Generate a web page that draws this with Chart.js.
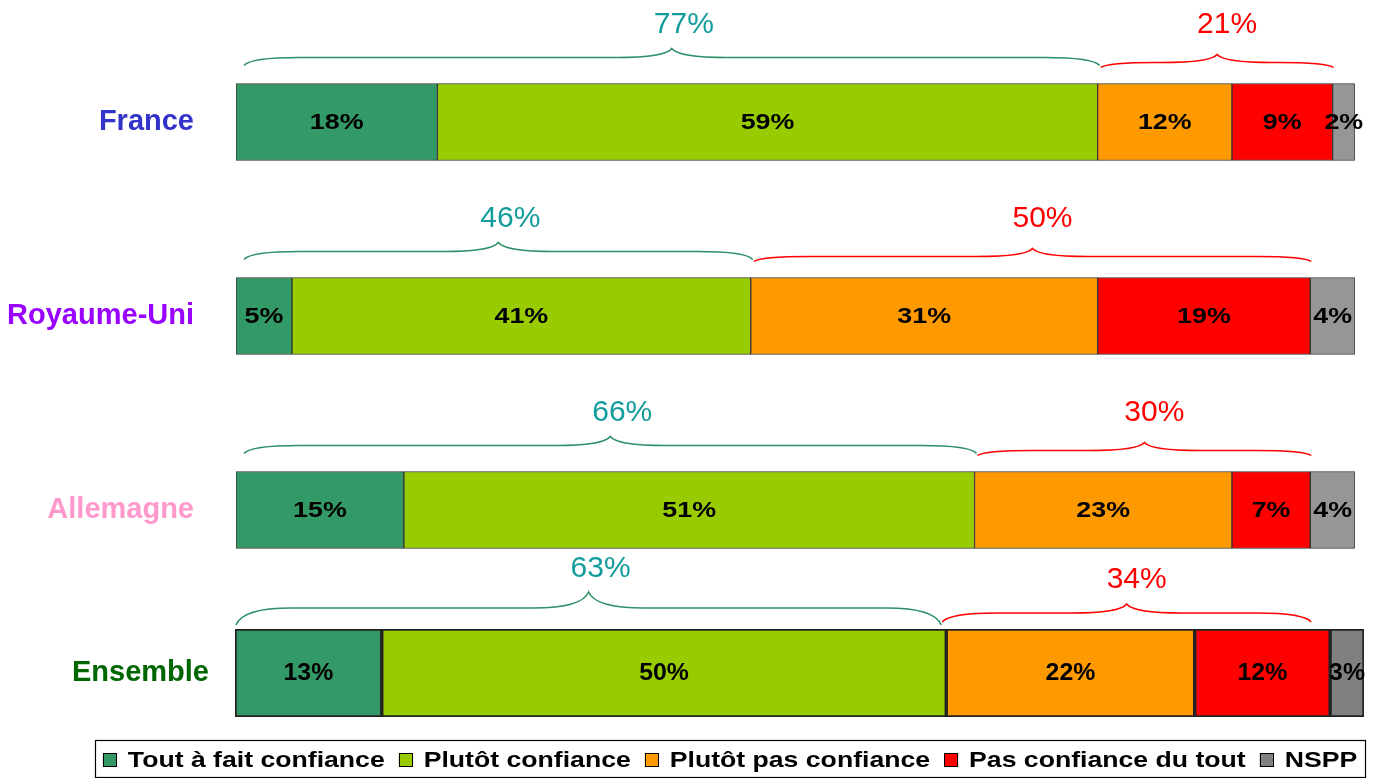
<!DOCTYPE html>
<html><head><meta charset="utf-8">
<script src="https://cdn.jsdelivr.net/npm/chart.js@4.4.0/dist/chart.umd.min.js"></script>
<style>
html,body{margin:0;padding:0;background:#fff;}
#wrap{position:relative;width:1373px;height:778px;overflow:hidden;}
canvas{position:absolute;left:0;top:0;}
</style></head><body>
<div id="wrap"><canvas id="c1" width="1373" height="778"></canvas><canvas id="c2" width="1373" height="778"></canvas></div>
<script>
// ---- data ----
const categories = ['France', 'Royaume-Uni', 'Allemagne', 'Ensemble'];
const seriesNames = ['Tout à fait confiance', 'Plutôt confiance', 'Plutôt pas confiance', 'Pas confiance du tout', 'NSPP'];
const toutAFaitConfiance = [18, 5, 15, 13];
const plutotConfiance = [59, 41, 51, 50];
const plutotPasConfiance = [12, 31, 23, 22];
const pasConfianceDuTout = [9, 19, 7, 12];
const nspp = [2, 4, 4, 3];
const totalConfiance = [77, 46, 66, 63];
const totalPasConfiance = [21, 50, 30, 34];

// ---- styles ----
const FONT = '"Liberation Sans", Arial, Helvetica, sans-serif';
Chart.defaults.font.family = FONT;
const seriesColors = ['#339966', '#99cc00', '#ff9900', '#ff0000', '#969696'];
const seriesColorsEnsemble = ['#339966', '#99cc00', '#ff9900', '#ff0000', '#808080'];
const countryColors = ['#3333cc', '#9900ff', '#ff99cc', '#006600'];
const seriesValues = [toutAFaitConfiance, plutotConfiance, plutotPasConfiance, pasConfianceDuTout, nspp];

function makeDatasets(from, to, colors, bw, bc) {
  return seriesNames.map((name, s) => ({
    label: name,
    data: seriesValues[s].slice(from, to),
    backgroundColor: colors[s],
    borderColor: bc,
    borderWidth: bw,
    borderSkipped: false
  }));
}

function drawBrace(ctx, x0, x1, yEnd, yMid, yTip, color) {
  const w = x1 - x0, xc = (x0 + x1) / 2;
  const r = Math.min(55, w / 4);
  ctx.save();
  ctx.strokeStyle = color; ctx.lineWidth = 1.5;
  ctx.beginPath();
  ctx.moveTo(x0, yEnd);
  ctx.quadraticCurveTo(x0 + r * 0.12, yMid, x0 + r, yMid);
  ctx.lineTo(xc - r, yMid);
  ctx.quadraticCurveTo(xc - r * 0.12, yMid, xc, yTip);
  ctx.quadraticCurveTo(xc + r * 0.12, yMid, xc + r, yMid);
  ctx.lineTo(x1 - r, yMid);
  ctx.quadraticCurveTo(x1 - r * 0.12, yMid, x1, yEnd);
  ctx.stroke();
  ctx.restore();
}

function stretchedText(ctx, txt, x, y, hs) {
  ctx.save();
  ctx.translate(x, y);
  ctx.scale(hs, 1);
  ctx.fillText(txt, 0, 0);
  ctx.restore();
}

const annotPlugin = {
  id: 'annot',
  afterDatasetsDraw(chart, args, opts) {
    const ctx = chart.ctx;
    // segment labels
    ctx.save();
    ctx.fillStyle = '#000';
    ctx.font = 'bold ' + opts.labelSize + 'px ' + FONT;
    ctx.textAlign = 'center'; ctx.textBaseline = 'middle';
    chart.data.datasets.forEach((ds, di) => {
      const meta = chart.getDatasetMeta(di);
      meta.data.forEach((el, i) => {
        const p = el.getProps(['x', 'base', 'y'], true);
        stretchedText(ctx, ds.data[i] + '%', (p.x + p.base) / 2, p.y + 1, opts.labelStretch);
      });
    });
    ctx.restore();
    // braces
    const m0 = chart.getDatasetMeta(0), m1 = chart.getDatasetMeta(1), m3 = chart.getDatasetMeta(3);
    m0.data.forEach((el, i) => {
      const idx = opts.offset + i;
      const p0 = el.getProps(['base', 'y', 'height'], true);
      const x1 = m1.data[i].getProps(['x'], true).x;
      const x3 = m3.data[i].getProps(['x'], true).x;
      const top = p0.y - p0.height / 2;
      const g = opts.green, r = opts.red;
      const gx0 = p0.base + g.in0, gx1 = x1 + g.in1;
      const rx0 = x1 + r.in0, rx1 = x3 + r.in1;
      drawBrace(ctx, gx0, gx1, top + g.end, top + g.mid, top + g.tip, '#2e9166');
      drawBrace(ctx, rx0, rx1, top + r.end, top + r.mid, top + r.tip, '#ff0000');
      ctx.save();
      ctx.font = '30px ' + FONT;
      ctx.textAlign = 'center'; ctx.textBaseline = 'middle';
      ctx.fillStyle = '#139c9c';
      ctx.fillText(totalConfiance[idx] + '%', (gx0 + gx1) / 2 + 12, top + g.label);
      ctx.fillStyle = '#ff0000';
      ctx.fillText(totalPasConfiance[idx] + '%', (rx0 + rx1) / 2 + 10, top + r.label);
      ctx.restore();
    });
  },
  afterDraw(chart, args, opts) {
    if (!opts.legend) return;
    const L = opts.legend;
    const ctx = chart.ctx;
    ctx.save();
    ctx.font = 'bold ' + L.size + 'px ' + FONT;
    ctx.textBaseline = 'middle'; ctx.textAlign = 'left';
    const items = chart.data.datasets.map(ds => ({ text: ds.label, color: ds.backgroundColor, w: ctx.measureText(ds.label).width * L.stretch }));
    let total = 0;
    items.forEach((it, k) => { total += L.box + L.gap + it.w + (k ? L.pad : 0); });
    let x = L.cx - total / 2;
    const x0 = x;
    items.forEach((it, k) => {
      if (k) x += L.pad;
      ctx.fillStyle = it.color;
      ctx.fillRect(x, L.cy - L.box / 2, L.box, L.box);
      ctx.strokeStyle = '#000'; ctx.lineWidth = 1;
      ctx.strokeRect(Math.round(x) + 0.5, Math.round(L.cy - L.box / 2) + 0.5, L.box - 1, L.box - 1);
      x += L.box + L.gap;
      ctx.fillStyle = '#000';
      ctx.save(); ctx.translate(x, L.cy + 1); ctx.scale(L.stretch, 1); ctx.fillText(it.text, 0, 0); ctx.restore();
      x += it.w;
    });
    ctx.strokeStyle = '#000'; ctx.lineWidth = 1.2;
    ctx.strokeRect(Math.round(x0 - 8) + 0.5, L.top + 0.5, Math.round(x - x0 + 16), L.h);
    ctx.restore();
  }
};

// ---- chart 1 : three countries ----
new Chart(document.getElementById('c1'), {
  type: 'bar',
  data: { labels: categories.slice(0, 3), datasets: makeDatasets(0, 3, seriesColors, 1, '#333333') },
  options: {
    responsive: false, animation: false, indexAxis: 'y',
    barThickness: 77,
    layout: { padding: { left: 0, right: 18, top: 25, bottom: 171 } },
    scales: {
      x: { stacked: true, min: 0, max: 100, display: false },
      y: {
        stacked: true,
        grid: { display: false }, border: { display: false },
        ticks: { color: countryColors.slice(0, 3), font: { size: 29, weight: 'bold' }, padding: 34 },
        afterFit(a) { a.width = 236; a.paddingTop = 0; a.paddingBottom = 0; }
      }
    },
    plugins: {
      legend: { display: false }, tooltip: { enabled: false },
      annot: {
        offset: 0, labelSize: 22, labelStretch: 1.22,
        green: { in0: 8, in1: 2, end: -18, mid: -26, tip: -35, label: -59 },
        red: { in0: 3, in1: 1, end: -16, mid: -21, tip: -29, label: -59 }
      }
    }
  },
  plugins: [annotPlugin]
});

// ---- chart 2 : Ensemble + legend ----
new Chart(document.getElementById('c2'), {
  type: 'bar',
  data: { labels: categories.slice(3), datasets: makeDatasets(3, 4, seriesColorsEnsemble, 2, '#222222') },
  options: {
    responsive: false, animation: false, indexAxis: 'y',
    barPercentage: 1, categoryPercentage: 1,
    layout: { padding: { left: 0, right: 9, top: 629, bottom: 0 } },
    scales: {
      x: {
        stacked: true, min: 0, max: 100,
        grid: { display: false }, border: { display: false }, ticks: { display: false },
        afterFit(a) { a.height = 61; a.paddingLeft = 0; a.paddingRight = 0; }
      },
      y: {
        stacked: true,
        grid: { display: false }, border: { display: false },
        ticks: { color: countryColors.slice(3), font: { size: 29, weight: 'bold' }, padding: 18 },
        afterFit(a) { a.width = 235; a.paddingTop = 0; a.paddingBottom = 0; }
      }
    },
    plugins: {
      tooltip: { enabled: false },
      legend: { display: false },
      annot: {
        offset: 3, labelSize: 23, labelStretch: 1.08,
        green: { in0: 1, in1: -5, end: -4, mid: -21, tip: -37, label: -60 },
        red: { in0: -4, in1: -19, end: -7, mid: -16, tip: -25, label: -49 },
        legend: { size: 22, stretch: 1.21, box: 14, gap: 11, pad: 14, cx: 730, cy: 760, top: 740, h: 37 }
      }
    }
  },
  plugins: [annotPlugin]
});
</script>
</body></html>
